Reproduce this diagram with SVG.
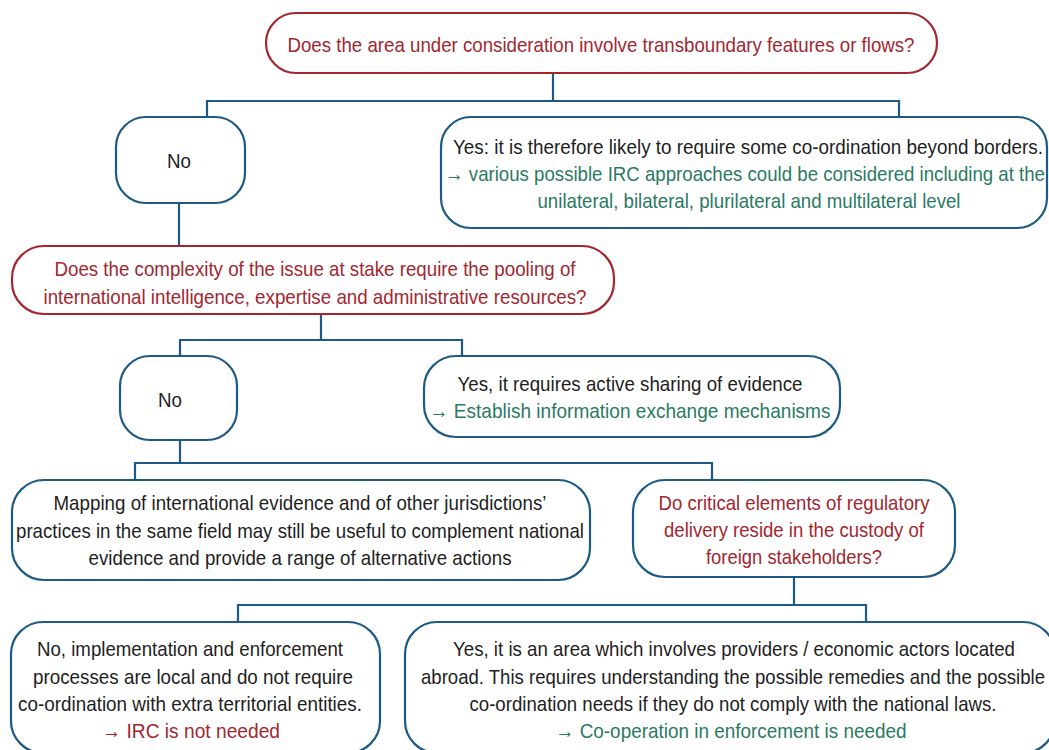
<svg xmlns="http://www.w3.org/2000/svg" width="1049" height="750" viewBox="0 0 1049 750">
<style>
.box{fill:#fff;stroke:#1d5a85;stroke-width:2.2}
.qbox{fill:#fff;stroke:#a3262f;stroke-width:2.2}
.conn{fill:none;stroke:#1d5a85;stroke-width:2.2}
text{font-family:"Liberation Sans Narrow","Arial Narrow","Liberation Sans",sans-serif;font-size:21px;text-anchor:middle;dominant-baseline:central}
.k{fill:#1e1e1e}
.r{fill:#a3262f}
.g{fill:#2a7a63}
</style>
<rect width="1049" height="750" fill="#fff"/>
<g id="connectors">
<path class="conn" d="M553 73V101M207 117V101H899V117"/>
<path class="conn" d="M179 203V246"/>
<path class="conn" d="M321 314V340M180 356V340H462V356"/>
<path class="conn" d="M180 440V463M135 480V463H712V480"/>
<path class="conn" d="M794 577V605M238 622V605H866V622"/>
</g>
<g id="q1">
<rect class="qbox" x="266" y="13" width="671" height="60" rx="30"/>
<text class="r" x="601" y="44" textLength="627" lengthAdjust="spacingAndGlyphs">Does the area under consideration involve transboundary features or flows?</text>
</g>
<g id="no1">
<rect class="box" x="116" y="117" width="129" height="86" rx="30"/>
<text class="k" x="179" y="160" textLength="24" lengthAdjust="spacingAndGlyphs">No</text>
</g>
<g id="yes1">
<rect class="box" x="441" y="117" width="606" height="111" rx="30"/>
<text class="k" x="748" y="146" textLength="590" lengthAdjust="spacingAndGlyphs">Yes: it is therefore likely to require some co-ordination beyond borders.</text>
<text class="g" x="745" y="173" textLength="600" lengthAdjust="spacingAndGlyphs">→ various possible IRC approaches could be considered including at the</text>
<text class="g" x="749" y="200" textLength="423" lengthAdjust="spacingAndGlyphs">unilateral, bilateral, plurilateral and multilateral level</text>
</g>
<g id="q2">
<rect class="qbox" x="12" y="246" width="602" height="68" rx="32"/>
<text class="r" x="315" y="268" textLength="521" lengthAdjust="spacingAndGlyphs">Does the complexity of the issue at stake require the pooling of</text>
<text class="r" x="315" y="296" textLength="543" lengthAdjust="spacingAndGlyphs">international intelligence, expertise and administrative resources?</text>
</g>
<g id="no2">
<rect class="box" x="120" y="356" width="117" height="84" rx="30"/>
<text class="k" x="170" y="399" textLength="24" lengthAdjust="spacingAndGlyphs">No</text>
</g>
<g id="yes2">
<rect class="box" x="424" y="356" width="416" height="81" rx="32"/>
<text class="k" x="630" y="383" textLength="345" lengthAdjust="spacingAndGlyphs">Yes, it requires active sharing of evidence</text>
<text class="g" x="630" y="410" textLength="401" lengthAdjust="spacingAndGlyphs">→ Establish information exchange mechanisms</text>
</g>
<g id="mapping">
<rect class="box" x="12" y="480" width="578" height="100" rx="32"/>
<text class="k" x="300" y="502" textLength="493" lengthAdjust="spacingAndGlyphs">Mapping of international evidence and of other jurisdictions’</text>
<text class="k" x="300" y="530" textLength="568" lengthAdjust="spacingAndGlyphs">practices in the same field may still be useful to complement national</text>
<text class="k" x="300" y="557" textLength="423" lengthAdjust="spacingAndGlyphs">evidence and provide a range of alternative actions</text>
</g>
<g id="q3">
<rect class="box" x="633" y="480" width="322" height="97" rx="32"/>
<text class="r" x="794" y="502" textLength="271" lengthAdjust="spacingAndGlyphs">Do critical elements of regulatory</text>
<text class="r" x="794" y="529" textLength="260" lengthAdjust="spacingAndGlyphs">delivery reside in the custody of</text>
<text class="r" x="794" y="556" textLength="176" lengthAdjust="spacingAndGlyphs">foreign stakeholders?</text>
</g>
<g id="no3">
<rect class="box" x="11" y="622" width="369" height="131" rx="32"/>
<text class="k" x="190" y="648" textLength="306" lengthAdjust="spacingAndGlyphs">No, implementation and enforcement</text>
<text class="k" x="193" y="676" textLength="320" lengthAdjust="spacingAndGlyphs">processes are local and do not require</text>
<text class="k" x="190" y="703" textLength="344" lengthAdjust="spacingAndGlyphs">co-ordination with extra territorial entities.</text>
<text class="r" x="191" y="730" textLength="178" lengthAdjust="spacingAndGlyphs">→ IRC is not needed</text>
</g>
<g id="yes3">
<rect class="box" x="405" y="622" width="650" height="131" rx="32"/>
<text class="k" x="734" y="648" textLength="562" lengthAdjust="spacingAndGlyphs">Yes, it is an area which involves providers / economic actors located</text>
<text class="k" x="733" y="676" textLength="624" lengthAdjust="spacingAndGlyphs">abroad. This requires understanding the possible remedies and the possible</text>
<text class="k" x="733" y="703" textLength="527" lengthAdjust="spacingAndGlyphs">co-ordination needs if they do not comply with the national laws.</text>
<text class="g" x="731" y="730" textLength="351" lengthAdjust="spacingAndGlyphs">→ Co-operation in enforcement is needed</text>
</g>
</svg>
